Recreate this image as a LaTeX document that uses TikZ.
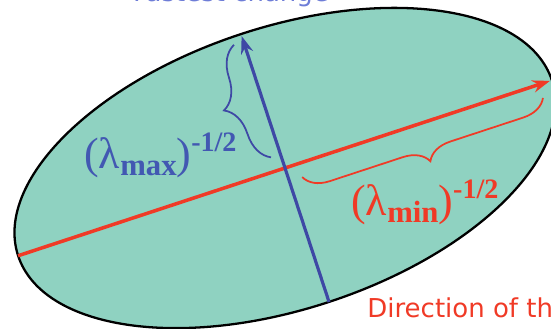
\documentclass[tikz,border=0pt]{standalone}
\usepackage{fontspec}
\setmainfont{Liberation Serif}
\newfontfamily\labelsans{DejaVu Sans}
\usetikzlibrary{
    arrows.meta,
    decorations.pathreplacing
}

\definecolor{ellfill}{RGB}{143,210,193}
\definecolor{axisred}{RGB}{240,58,38}
\definecolor{axisblue}{RGB}{62,72,165}
\definecolor{lblblue}{RGB}{66,88,178}
\definecolor{topblue}{RGB}{110,125,215}

% (lambda_sub)^{-1/2}
\newcommand{\lamlabel}[1]{%
{\fontsize{25}{29}\selectfont(λ\raisebox{-4.5pt}{\fontsize{17.5}{20}\selectfont\bfseries #1})%
\raisebox{9.5pt}{\fontsize{16}{18}\selectfont\bfseries -1/2}}}

\begin{document}
\begin{tikzpicture}[
    x=0.02cm,
    y=-0.02cm,
    >={Stealth[length=10pt,width=7pt]},
    ellbody/.style={
        draw=black,
        fill=ellfill,
        line width=1.3pt
    },
    axis/.style={
        ->,
        line width=1.8pt
    },
    axisbrace/.style={
        decorate,
        decoration={brace,amplitude=#1},
        line width=1pt
    },
    lbl/.style={
        inner sep=0pt,
        anchor=base west
    },
    dirlbl/.style={
        inner sep=0pt,
        font=\labelsans\fontsize{14.8}{17}\selectfont
    }
]

\useasboundingbox (0,0) rectangle (551,328);
\clip (0,0) rectangle (551,328);

%--------------------------------------------------
\begin{scope}[shift={(285,168)},rotate=18.2,x=1cm,y=1cm]
\draw[ellbody] (0,0) ellipse [x radius=5.62, y radius=2.82];

\coordinate (west) at (-5.62,0);
\coordinate (east) at (5.58,0);
\coordinate (south) at (0,-2.82);
\coordinate (north) at (0,2.78);

\coordinate (bl0) at (-0.2,0.29);
\coordinate (bl1) at (-0.2,2.66);
\coordinate (br0) at (5.34,-0.28);
\coordinate (br1) at (0.27,-0.28);
\end{scope}

%--------------------------------------------------
\draw[axis,axisred,line width=2pt] (west) -- (east);
\draw[axis,axisblue] (south) -- (north);

\draw[axisbrace=0.6cm,axisblue] (bl0) -- (bl1);
\draw[axisbrace=0.5cm,axisred] (br0) -- (br1);

%--------------------------------------------------
\node[lbl,text=lblblue] (maxlbl) at (84,168) {\lamlabel{max}};
\node[lbl,text=axisred] (minlbl) at (351,215) {\lamlabel{min}};

\node[dirlbl,anchor=base,text=topblue] (fastlbl) at (231,2)
{Fastest change};
\node[dirlbl,anchor=base west,text=axisred] (slowlbl) at (367,317)
{Direction of the slowest change};

\end{tikzpicture}
\end{document}
